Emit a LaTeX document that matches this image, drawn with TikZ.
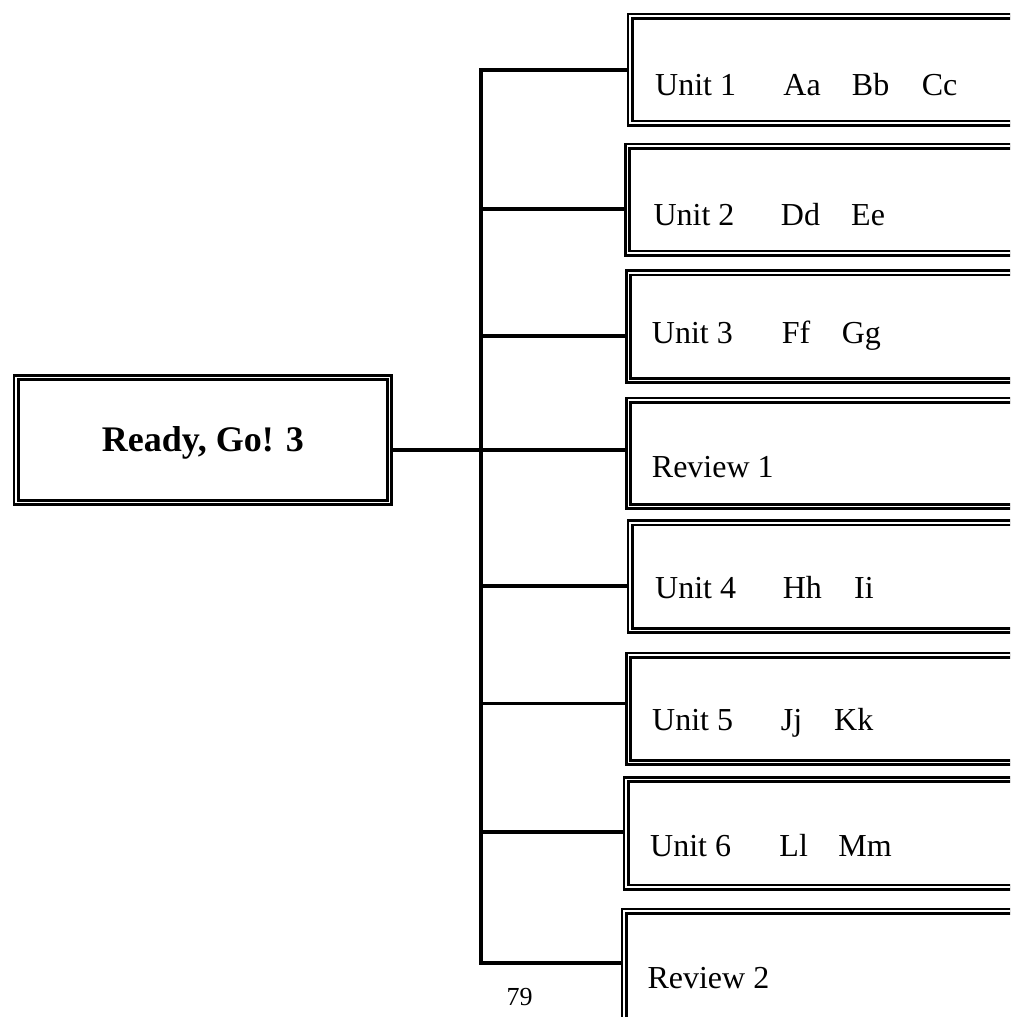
\documentclass[tikz,border=0pt]{standalone}
\usepackage{fontspec}
\setmainfont{Liberation Serif}
\newcommand\wbox[2]{\makebox[#1pt][l]{#2}}
\begin{document}
\begin{tikzpicture}[x=1pt,y=-1pt,
  box/.style={draw, line width=2.6pt, double=white, double distance=1.8pt,
    rectangle, inner sep=0pt, outer sep=3.5pt, anchor=north west},
  conn/.style={line width=3.6pt},
  lbl/.style={anchor=base west, inner sep=0pt, font=\fontsize{32}{36}\selectfont},
]
\useasboundingbox (0,0) rectangle (1010,1017);
\clip (0,0) rectangle (1010,1017);

% main box
\node[box, minimum width=373.3pt, minimum height=125pt] (title) at (12.7,374) {};
\node[anchor=base, inner sep=0pt, font=\bfseries\fontsize{36}{40}\selectfont] (tt) at (202.8,451.7) {Ready, Go! 3};

% unit boxes
\node[box, minimum width=426.3pt, minimum height=107pt] (b1) at (626.7,12.7) {};
\node[box, minimum width=429pt, minimum height=107pt] (b2) at (624,142.7) {};
\node[box, minimum width=428pt, minimum height=107.7pt] (b3) at (625,269.3) {};
\node[box, minimum width=428pt, minimum height=106.3pt] (r1) at (625,396.7) {};
\node[box, minimum width=426.3pt, minimum height=107.7pt] (b4) at (626.7,519.3) {};
\node[box, minimum width=428pt, minimum height=107.3pt] (b5) at (625,651.7) {};
\node[box, minimum width=430.3pt, minimum height=107.7pt] (b6) at (622.7,776) {};
\node[box, minimum width=432.3pt, minimum height=125.3pt] (r2) at (620.7,907.7) {};

% labels
\node[lbl] (t1) at (655,95) {\wbox{128.3}{Unit 1}\wbox{68.4}{Aa}\wbox{70}{Bb}Cc};
\node[lbl] (t2) at (653.3,225.5) {\wbox{127.4}{Unit 2}\wbox{70.3}{Dd}Ee};
\node[lbl] (t3) at (651.7,343.3) {\wbox{130}{Unit 3}\wbox{60}{Ff}Gg};
\node[lbl] (t4) at (651.7,477.3) {Review 1};
\node[lbl] (t5) at (655,598.3) {\wbox{127.7}{Unit 4}\wbox{71.3}{Hh}Ii};
\node[lbl] (t6) at (652,730) {\wbox{128.7}{Unit 5}\wbox{53.3}{Jj}Kk};
\node[lbl] (t7) at (650,856.7) {\wbox{129.3}{Unit 6}\wbox{59}{Ll}Mm};
\node[lbl] (t8) at (647.3,988.3) {Review 2};

% page number
\node[anchor=base west, inner sep=0pt, font=\fontsize{26}{30}\selectfont] (pg) at (506.5,1005) {79};

% trunk junctions
\coordinate (j1) at (480.7,70);
\coordinate (j2) at (480.7,209);
\coordinate (j3) at (480.7,336);
\coordinate (j4) at (480.7,449.7);
\coordinate (j5) at (480.7,586);
\coordinate (j6) at (480.7,703.3);
\coordinate (j7) at (480.7,831.7);
\coordinate (j8) at (480.7,962.7);

% connectors
\draw[conn] (j1 -| b1.west) -- (j1) -- (j8) -- (j8 -| r2.west);
\draw[conn] (j2) -- (j2 -| b2.west);
\draw[conn] (j3) -- (j3 -| b3.west);
\draw[conn] (j4 -| title.east) -- (j4 -| r1.west);
\draw[conn] (j5) -- (j5 -| b4.west);
\draw[conn] (j6) -- (j6 -| b5.west);
\draw[conn] (j7) -- (j7 -| b6.west);
\end{tikzpicture}
\end{document}
